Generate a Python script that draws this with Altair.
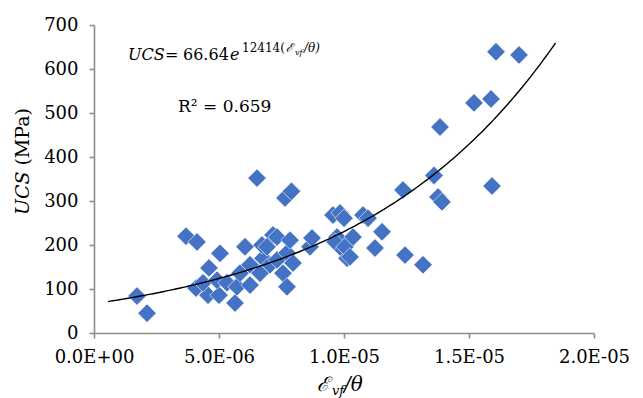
import altair as alt
import pandas as pd

# ---- data (x in units of 1e-6) ----
x_e6 = [1.72, 2.12, 3.68, 4.12, 5.04, 4.60, 4.08, 4.56, 5.00, 5.64,
        4.36, 4.92, 5.32, 5.72, 5.84, 6.04, 6.24, 6.24, 6.64, 6.76,
        6.72, 7.04, 6.52, 7.16, 6.92, 7.32, 7.32, 7.56, 7.72, 7.72,
        7.84, 7.96, 7.64, 7.90, 8.64, 8.72, 9.56, 9.84, 10.00, 9.72,
        9.64, 9.96, 10.12, 10.04, 10.36, 10.24, 10.76, 10.96, 11.52, 11.24,
        12.44, 13.16, 12.36, 13.60, 13.76, 13.92, 13.84, 15.20, 15.88, 16.08,
        17.00, 15.92]
ucs = [84, 45, 220, 207, 181, 148, 102, 86, 86, 68,
       114, 120, 114, 105, 136, 196, 155, 109, 136, 170,
       200, 155, 352, 223, 196, 166, 218, 136, 105, 182,
       211, 159, 307, 322, 196, 216, 268, 273, 261, 218,
       207, 189, 170, 196, 218, 173, 268, 261, 230, 193,
       177, 155, 325, 358, 309, 298, 468, 523, 532, 639,
       632, 334]

# trendline parameters (UCS = a * exp(k * x))
fit_a = 66.64
fit_k = 124140
fit_start_e6 = 0.56
fit_stop_e6 = 18.52

x_ticks = [0, 5e-6, 1e-5, 1.5e-5, 2e-5]
x_tick_labels = ["0.0E+00", "5.0E-06", "1.0E-05", "1.5E-05", "2.0E-05"]
y_ticks = [0, 100, 200, 300, 400, 500, 600, 700]

df = pd.DataFrame({"x": [v * 1e-6 for v in x_e6], "ucs": ucs})

W, H = 500, 308
PL, PT = 94, 25
SERIF = "DejaVu Serif"
BLUE = "#4472C4"

xscale = alt.Scale(domain=[0, 2e-5], nice=False, zero=False)
yscale = alt.Scale(domain=[0, 700], nice=False)

label_expr = "[" + ",".join("'%s'" % s for s in x_tick_labels) + "][round(datum.value/5e-6)]"

points = alt.Chart(df).mark_point(
    shape="diamond", filled=True, size=340, color=BLUE, opacity=1,
    stroke="white", strokeWidth=0.6
).encode(
    x=alt.X("x:Q", scale=xscale,
            axis=alt.Axis(values=x_ticks, labelExpr=label_expr, title=None,
                          labelFlush=False, labelOverlap=False, labelPadding=10)),
    y=alt.Y("ucs:Q", scale=yscale,
            axis=alt.Axis(values=y_ticks, title=None, labelPadding=11,
                          labelFlush=False, labelOverlap=False)),
)

trend = alt.Chart(alt.sequence(fit_start_e6, fit_stop_e6 + 0.01, 0.1, as_="t")).transform_calculate(
    x="datum.t * 1e-6",
    y=f"{fit_a} * exp({fit_k} * datum.t * 1e-6)",
).mark_line(color="black", strokeWidth=1.4).encode(
    x=alt.X("x:Q", scale=xscale),
    y=alt.Y("y:Q", scale=yscale),
)


def txt(text, px, py, size=16, italic=False, align="left", baseline="alphabetic", angle=0, font=SERIF):
    kw = dict(font=font, fontSize=size, align=align, baseline=baseline, color="black")
    if italic:
        kw["fontStyle"] = "italic"
    if angle:
        kw["angle"] = angle
    return alt.Chart(pd.DataFrame({"t": [text]})).mark_text(**kw).encode(
        text="t:N", x=alt.value(px - PL), y=alt.value(py - PT)
    )


annotations = [
    # equation
    txt("UCS", 128, 60, 16, italic=True),
    txt("=", 165, 60, 16),
    txt("66.64", 183, 60, 16),
    txt("e", 230, 60, 16, italic=True),
    txt("12414(", 242, 52, 12),
    txt("ℰ", 286, 52, 12, italic=True),
    txt("vf", 295, 55, 8, italic=True),
    txt("/θ)", 304, 52, 12, italic=True),
    # R squared
    txt("R² = 0.659", 178, 112, 17),
    # y title
    txt("UCS", 29, 215, 19, italic=True, angle=270),
    txt("(MPa)", 29, 108, 19, align="right", angle=270),
    # x title
    txt("ℰ", 317, 391, 20, italic=True),
    txt("vf", 332, 395, 13, italic=True),
    txt("/θ", 344, 391, 20, italic=True),
]

chart = alt.layer(points, trend, *annotations).properties(
    width=W, height=H,
    autosize=alt.AutoSizeParams(type="none"),
    padding={"left": PL, "top": PT, "right": 643 - PL - W, "bottom": 398 - PT - H},
).configure_view(stroke=None).configure_axis(
    grid=False,
    domainColor="#8c8c8c", domainWidth=1.6,
    tickColor="#8c8c8c", tickWidth=1.6, tickSize=5,
    labelFont=SERIF, labelFontSize=18, labelColor="black",
)

chart.save("out.html", embed_options={"renderer": "svg", "actions": False})
